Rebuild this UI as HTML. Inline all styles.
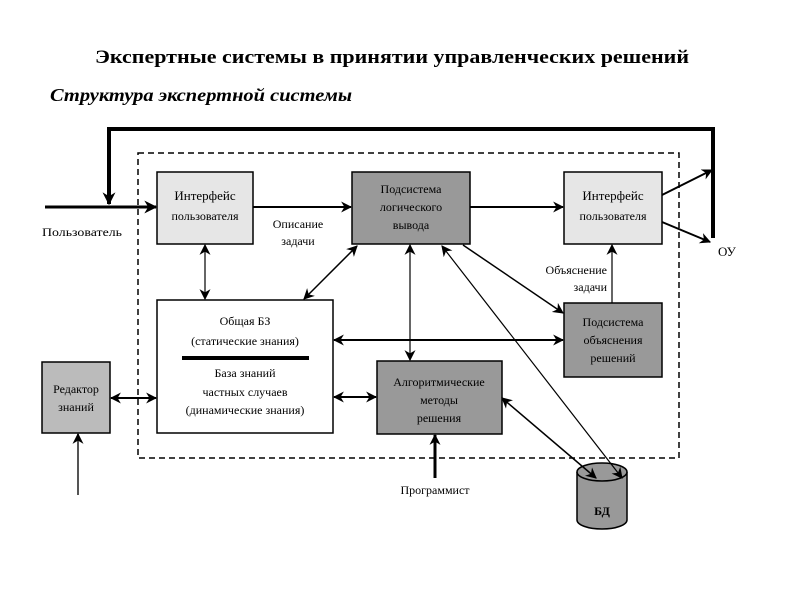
<!DOCTYPE html>
<html><head><meta charset="utf-8"><style>
html,body{margin:0;padding:0;background:#fff;}
svg{display:block;font-family:"Liberation Serif",serif;}
</style></head><body>
<svg width="794" height="595" viewBox="0 0 794 595" xmlns="http://www.w3.org/2000/svg">
<defs>
<marker id="b" viewBox="0 0 10 10" refX="9" refY="5" markerWidth="11" markerHeight="11" orient="auto-start-reverse" markerUnits="userSpaceOnUse"><path d="M0,0 L10,5 L0,10 L3,5 z" fill="#000"/></marker>
<marker id="c" viewBox="0 0 10 10" refX="9" refY="5" markerWidth="13" markerHeight="13" orient="auto-start-reverse" markerUnits="userSpaceOnUse"><path d="M0,0 L10,5 L0,10 L3,5 z" fill="#000"/></marker>
</defs>
<text x="392" y="63" text-anchor="middle" font-size="19" font-weight="bold" textLength="594" lengthAdjust="spacingAndGlyphs">Экспертные системы в принятии управленческих решений</text>
<text x="50" y="101" font-size="18" font-weight="bold" font-style="italic" textLength="302" lengthAdjust="spacingAndGlyphs">Структура экспертной системы</text>

<rect x="138" y="153" width="541" height="305" fill="none" stroke="#000" stroke-width="1.5" stroke-dasharray="6,4"/>

<polyline points="713,238 713,129 109,129 109,204" fill="none" stroke="#000" stroke-width="4" marker-end="url(#c)"/>
<line x1="45" y1="207" x2="156" y2="207" stroke="#000" stroke-width="3" marker-end="url(#c)"/>
<text x="42" y="236" font-size="12" textLength="80" lengthAdjust="spacingAndGlyphs">Пользователь</text>

<rect x="157" y="172" width="96" height="72" fill="#e6e6e6" stroke="#000" stroke-width="1.5"/>
<text x="205" y="200" text-anchor="middle" font-size="13">Интерфейс</text>
<text x="205" y="220" text-anchor="middle" font-size="12">пользователя</text>

<rect x="352" y="172" width="118" height="72" fill="#999" stroke="#000" stroke-width="1.5"/>
<text x="411" y="193" text-anchor="middle" font-size="12">Подсистема</text>
<text x="411" y="211" text-anchor="middle" font-size="12">логического</text>
<text x="411" y="229" text-anchor="middle" font-size="12">вывода</text>

<rect x="564" y="172" width="98" height="72" fill="#e6e6e6" stroke="#000" stroke-width="1.5"/>
<text x="613" y="200" text-anchor="middle" font-size="13">Интерфейс</text>
<text x="613" y="220" text-anchor="middle" font-size="12">пользователя</text>

<rect x="157" y="300" width="176" height="133" fill="#fff" stroke="#000" stroke-width="1.5"/>
<text x="245" y="325" text-anchor="middle" font-size="12">Общая БЗ</text>
<text x="245" y="345" text-anchor="middle" font-size="12">(статические знания)</text>
<line x1="182" y1="358" x2="309" y2="358" stroke="#000" stroke-width="4"/>
<text x="245" y="377" text-anchor="middle" font-size="12">База знаний</text>
<text x="245" y="396" text-anchor="middle" font-size="12">частных случаев</text>
<text x="245" y="414" text-anchor="middle" font-size="12">(динамические знания)</text>

<rect x="564" y="303" width="98" height="74" fill="#999" stroke="#000" stroke-width="1.5"/>
<text x="613" y="326" text-anchor="middle" font-size="12">Подсистема</text>
<text x="613" y="344" text-anchor="middle" font-size="12">объяснения</text>
<text x="613" y="362" text-anchor="middle" font-size="12">решений</text>

<rect x="377" y="361" width="125" height="73" fill="#999" stroke="#000" stroke-width="1.5"/>
<text x="439" y="386" text-anchor="middle" font-size="12">Алгоритмические</text>
<text x="439" y="404" text-anchor="middle" font-size="12">методы</text>
<text x="439" y="422" text-anchor="middle" font-size="12">решения</text>

<rect x="42" y="362" width="68" height="71" fill="#bbb" stroke="#000" stroke-width="1.5"/>
<text x="76" y="393" text-anchor="middle" font-size="12">Редактор</text>
<text x="76" y="411" text-anchor="middle" font-size="12">знаний</text>

<path d="M577,472 L577,520 A25,9 0 0 0 627,520 L627,472" fill="#999" stroke="#000" stroke-width="1.5"/>
<ellipse cx="602" cy="472" rx="25" ry="9" fill="#999" stroke="#000" stroke-width="1.5"/>
<text x="602" y="515" text-anchor="middle" font-size="12" font-weight="bold">БД</text>

<line x1="253" y1="207" x2="351" y2="207" stroke="#000" stroke-width="2" marker-end="url(#b)"/>
<text x="298" y="228" text-anchor="middle" font-size="12">Описание</text>
<text x="298" y="245" text-anchor="middle" font-size="12">задачи</text>
<line x1="470" y1="207" x2="563" y2="207" stroke="#000" stroke-width="2" marker-end="url(#b)"/>
<line x1="662" y1="195" x2="712" y2="170" stroke="#000" stroke-width="2" marker-end="url(#b)"/>
<line x1="662" y1="222" x2="710" y2="242" stroke="#000" stroke-width="2" marker-end="url(#b)"/>
<text x="718" y="256" font-size="13">ОУ</text>

<line x1="205" y1="245" x2="205" y2="299" stroke="#000" stroke-width="1.2" marker-start="url(#b)" marker-end="url(#b)"/>
<line x1="357" y1="246" x2="304" y2="299" stroke="#000" stroke-width="1.5" marker-start="url(#b)" marker-end="url(#b)"/>
<line x1="410" y1="245" x2="410" y2="360" stroke="#000" stroke-width="1.2" marker-start="url(#b)" marker-end="url(#b)"/>
<line x1="463" y1="245" x2="563" y2="313" stroke="#000" stroke-width="1.5" marker-end="url(#b)"/>
<line x1="612" y1="303" x2="612" y2="245" stroke="#000" stroke-width="1.2" marker-end="url(#b)"/>
<text x="607" y="274" text-anchor="end" font-size="12">Объяснение</text>
<text x="607" y="291" text-anchor="end" font-size="12">задачи</text>
<line x1="334" y1="340" x2="563" y2="340" stroke="#000" stroke-width="2" marker-start="url(#b)" marker-end="url(#b)"/>
<line x1="334" y1="397" x2="376" y2="397" stroke="#000" stroke-width="2" marker-start="url(#b)" marker-end="url(#b)"/>
<line x1="111" y1="398" x2="156" y2="398" stroke="#000" stroke-width="2" marker-start="url(#b)" marker-end="url(#b)"/>
<line x1="78" y1="495" x2="78" y2="434" stroke="#555" stroke-width="2" marker-end="url(#b)"/>
<line x1="435" y1="478" x2="435" y2="435" stroke="#000" stroke-width="3" marker-end="url(#b)"/>
<text x="435" y="494" text-anchor="middle" font-size="12">Программист</text>
<line x1="502" y1="398" x2="596" y2="478" stroke="#000" stroke-width="1.5" marker-start="url(#b)" marker-end="url(#b)"/>
<line x1="442" y1="246" x2="622" y2="478" stroke="#000" stroke-width="1.2" marker-start="url(#b)" marker-end="url(#b)"/>
</svg>
</body></html>
